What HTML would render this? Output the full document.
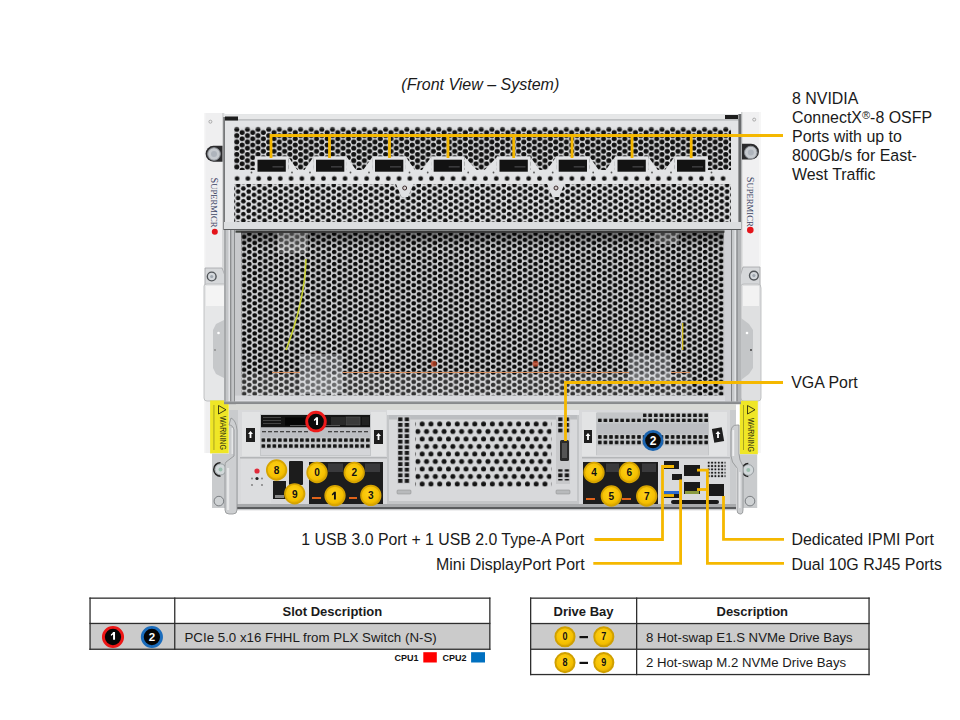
<!DOCTYPE html>
<html><head><meta charset="utf-8">
<style>
html,body{margin:0;padding:0;background:#fff;width:960px;height:720px;overflow:hidden;}
body{position:relative;font-family:"Liberation Sans",sans-serif;color:#1a1a1a;}
.t{position:absolute;white-space:nowrap;font-size:15.95px;line-height:19.2px;}
svg{position:absolute;left:0;top:0;}
table{position:absolute;border-collapse:collapse;font-family:"Liberation Sans",sans-serif;}
td{border:1.3px solid #333;padding:0;}
</style></head><body>
<svg width="960" height="720" viewBox="0 0 960 720">
<defs>
  <pattern id="meshA" patternUnits="userSpaceOnUse" x="234.14" y="127.84" width="10.63" height="6.25">
    <rect width="10.63" height="6.25" fill="#dfe0e2"/>
    <circle cx="2.658" cy="1.562" r="2.5" fill="#121212"/><circle cx="2.658" cy="7.812" r="2.5" fill="#121212"/><circle cx="7.973" cy="-1.562" r="2.5" fill="#121212"/><circle cx="7.973" cy="4.688" r="2.5" fill="#121212"/>
  </pattern>
  <pattern id="meshA2" patternUnits="userSpaceOnUse" x="235.43" y="126.00" width="10.63" height="6.4">
    <rect width="10.63" height="6.4" fill="#dfe0e2"/>
    <circle cx="2.658" cy="1.600" r="2.3" fill="#121212"/><circle cx="2.658" cy="8.000" r="2.3" fill="#121212"/><circle cx="7.973" cy="-1.600" r="2.3" fill="#121212"/><circle cx="7.973" cy="4.800" r="2.3" fill="#121212"/>
  </pattern>
  <pattern id="meshRow" patternUnits="userSpaceOnUse" x="220.90" y="175.5" width="10.8" height="6">
    <rect width="10.8" height="6" fill="#e2e3e5"/><circle cx="5.4" cy="3.1" r="2.4" fill="#121212"/>
  </pattern>
  <pattern id="meshCap" patternUnits="userSpaceOnUse" x="234.14" y="126.5" width="10.63" height="10">
    <rect width="10.63" height="10" fill="#dfe0e2"/><circle cx="2.6575" cy="2.9" r="2.5" fill="#121212"/>
  </pattern>
  <pattern id="meshB" patternUnits="userSpaceOnUse" x="241.45" y="235.29" width="10.6" height="6.04">
    <rect width="10.6" height="6.04" fill="#cfd0d2"/>
    <circle cx="2.650" cy="1.510" r="2.25" fill="#0c0c0c"/><circle cx="2.650" cy="7.550" r="2.25" fill="#0c0c0c"/><circle cx="7.950" cy="-1.510" r="2.25" fill="#0c0c0c"/><circle cx="7.950" cy="4.530" r="2.25" fill="#0c0c0c"/>
  </pattern>
  <pattern id="meshC" patternUnits="userSpaceOnUse" x="417.8" y="420.25" width="8.77" height="15">
    <rect width="8.77" height="15" fill="#d6d7d9"/>
    <circle cx="4.385" cy="3.75" r="2.5" fill="#141414"/>
    <circle cx="0" cy="11.25" r="2.5" fill="#141414"/>
    <circle cx="8.77" cy="11.25" r="2.5" fill="#141414"/>
  </pattern>
  <pattern id="sq" patternUnits="userSpaceOnUse" x="260.6" y="437.15" width="5.5" height="5.9">
    <rect width="5.5" height="5.9" fill="#c4c6c8"/>
    <rect x="0.95" y="1.15" width="3.6" height="3.6" rx="0.6" fill="#161616"/>
  </pattern>
  <pattern id="sq2" patternUnits="userSpaceOnUse" x="597" y="412.7" width="5.6" height="5.1">
    <rect width="5.6" height="5.1" fill="#c4c6c8"/>
    <rect x="1.00" y="0.75" width="3.6" height="3.6" rx="0.6" fill="#161616"/>
  </pattern>
  <pattern id="sq3" patternUnits="userSpaceOnUse" x="597" y="434.2" width="5.6" height="5.5">
    <rect width="5.6" height="5.5" fill="#c4c6c8"/>
    <rect x="1.00" y="0.95" width="3.6" height="3.6" rx="0.6" fill="#161616"/>
  </pattern>
  <pattern id="vent" patternUnits="userSpaceOnUse" x="397" y="416.5" width="6.6" height="5.6">
    <rect width="6.6" height="5.6" fill="#cbcccf"/>
    <rect x="1.2" y="0.9" width="4.2" height="3.8" fill="#181818"/>
  </pattern>
  <pattern id="vent3" patternUnits="userSpaceOnUse" x="557" y="416.5" width="6.6" height="5.6">
    <rect width="6.6" height="5.6" fill="#cbcccf"/>
    <rect x="1.2" y="0.9" width="4.2" height="3.8" fill="#181818"/>
  </pattern>
  <pattern id="vent2" patternUnits="userSpaceOnUse" x="707" y="461" width="3.35" height="3.35">
    <rect width="3.35" height="3.35" fill="#d6d7da"/><circle cx="1.7" cy="1.7" r="1.05" fill="#1a1a1a"/>
  </pattern>
  <linearGradient id="shadeTop" x1="0" y1="0" x2="0" y2="1">
    <stop offset="0" stop-color="#000" stop-opacity="0.45"/>
    <stop offset="1" stop-color="#000" stop-opacity="0"/>
  </linearGradient>
  <radialGradient id="gold" cx="0.45" cy="0.4" r="0.6">
    <stop offset="0" stop-color="#ffd21a"/>
    <stop offset="0.75" stop-color="#f5c000"/>
    <stop offset="1" stop-color="#d9a400"/>
  </radialGradient>
</defs>

<!-- ===== Left ear ===== -->
<rect x="204" y="113" width="21" height="340" fill="#efeff0"/>
<rect x="204" y="113" width="1.5" height="340" fill="#f6f6f6"/>
<rect x="222" y="113" width="2" height="340" fill="#d6d7d8"/>
<circle cx="210.4" cy="121.7" r="1.5" fill="none" stroke="#9a9a9a" stroke-width="0.8"/>
<path d="M222.5 145.8 H213.5 A7.95 7.95 0 0 0 213.5 161.7 H222.5 Z" fill="#2a2a2c"/>
<circle cx="214" cy="154" r="6.3" fill="#c6cacf" stroke="#8a8e94" stroke-width="1"/>
<circle cx="214" cy="154" r="3" fill="#aeb4bc"/>
<text transform="translate(211,177.5) rotate(90)" font-family="Liberation Serif" font-size="10.5" fill="#3c4464" textLength="50" lengthAdjust="spacingAndGlyphs">S<tspan font-size="8.8">UPERMICR</tspan></text>
<circle cx="214.8" cy="231.8" r="3" fill="#e4141a"/>
<path d="M205 268 H222 L229 286 L229 292 H205 Z" fill="#d6d8da" stroke="#a4a6a8" stroke-width="0.8"/>
<circle cx="211.7" cy="276.5" r="4.4" fill="#d4d8dc" stroke="#505458" stroke-width="1.4"/>
<circle cx="211.7" cy="276.5" r="1.6" fill="#a0a8b0"/>
<!-- handle left -->
<path d="M204 286 Q204 284 207 284 L225 284 Q228 284 228 288 L228 398 Q228 401 225 401 L207 401 Q204 401 204 398 Z" fill="#e6e7e8" stroke="#b4b6b8" stroke-width="0.8"/>
<rect x="206" y="286" width="18" height="20" fill="#f4f4f4"/>
<path d="M228 318 L216 324 L213 330 L213 368 L216 374 L228 380 Z" fill="#c6c8ca"/>
<circle cx="218.5" cy="333" r="1.3" fill="#fff"/>
<circle cx="215" cy="350" r="0.9" fill="#888"/>
<rect x="229" y="380" width="8" height="22" fill="#3a4050"/>
<rect x="230" y="386" width="6" height="3" fill="#8890b0"/>
<rect x="230" y="393" width="6" height="3" fill="#8890b0"/>
<rect x="229" y="380" width="7" height="80" fill="#2e3036"/>
<rect x="210.1" y="400.4" width="18.6" height="53" fill="#efe626"/>
<text transform="translate(220.3,416) rotate(90)" font-size="9.5" fill="#2e2e10" font-family="Liberation Sans" textLength="34" lengthAdjust="spacingAndGlyphs">WARNING</text>
<path d="M218.5 405.5 L218.5 414 L226 409.75 Z" fill="none" stroke="#2e2e10" stroke-width="0.9"/>
<rect x="213.6" y="405" width="0.7" height="45" fill="#8a8420"/>
<path d="M212 453.4 H230 V508 H212 Z" fill="#c9cbcd"/>
<path d="M220.5 462.7 A6.7 6.7 0 0 0 220.5 476.1" fill="none" stroke="#222" stroke-width="1.6"/>
<circle cx="220.5" cy="469.4" r="5.6" fill="#d2d8da" stroke="#8a9094" stroke-width="0.8"/>
<circle cx="220.5" cy="469.4" r="2" fill="#9cc0b0"/>
<circle cx="218.9" cy="501.1" r="4.8" fill="#cfd2d4" stroke="#7a7e82" stroke-width="1"/>

<!-- ===== Right ear ===== -->
<rect x="741" y="112" width="20" height="341" fill="#f0f0f1"/>
<rect x="759" y="112" width="2" height="341" fill="#f6f6f6"/>
<rect x="741" y="112" width="1.5" height="341" fill="#d0d1d2"/>
<circle cx="754.2" cy="119.6" r="1.5" fill="none" stroke="#9a9a9a" stroke-width="0.8"/>
<path d="M742 143.8 H751 A7.9 7.9 0 0 1 751 159.6 H742 Z" fill="#2a2a2c"/>
<circle cx="750.8" cy="152.5" r="6.3" fill="#c6cacf" stroke="#8a8e94" stroke-width="1"/>
<circle cx="750.8" cy="152.5" r="3" fill="#aeb4bc"/>
<text transform="translate(747.3,176.7) rotate(90)" font-family="Liberation Serif" font-size="10.5" fill="#3c4464" textLength="50" lengthAdjust="spacingAndGlyphs">S<tspan font-size="8.8">UPERMICR</tspan></text>
<circle cx="750.3" cy="230.1" r="3.3" fill="#e4141a"/>
<path d="M760 267 H743 L737 286 L737 292 H760 Z" fill="#d6d8da" stroke="#a4a6a8" stroke-width="0.8"/>
<circle cx="753.9" cy="275.6" r="4.4" fill="#d4d8dc" stroke="#505458" stroke-width="1.4"/>
<circle cx="753.9" cy="275.6" r="1.6" fill="#a0a8b0"/>
<path d="M741 286 Q741 284 744 284 L758 284 Q761 284 761 288 L761 398 Q761 401 758 401 L744 401 Q741 401 741 398 Z" fill="#dfe0e1" stroke="#b4b6b8" stroke-width="0.8"/>
<rect x="743" y="286" width="16" height="20" fill="#f2f2f2"/>
<path d="M741 318 L749 324 L753 330 L753 368 L749 374 L741 380 Z" fill="#c4c6c8"/>
<circle cx="747" cy="333" r="1.3" fill="#fff"/>
<circle cx="751" cy="350" r="0.9" fill="#333"/>
<rect x="739.8" y="400.8" width="18" height="53.5" fill="#efe626"/>
<text transform="translate(748.3,418) rotate(90)" font-size="9.5" fill="#2e2e10" font-family="Liberation Sans" textLength="34" lengthAdjust="spacingAndGlyphs">WARNING</text>
<path d="M747.5 405.5 L747.5 414 L755 409.75 Z" fill="none" stroke="#2e2e10" stroke-width="0.9"/>
<rect x="743" y="405" width="0.7" height="45" fill="#8a8420"/>
<path d="M737.2 454.3 H757.2 V508 H737.2 Z" fill="#c9cbcd"/>
<path d="M748.3 463.6 A6.4 6.4 0 0 0 748.3 476.4" fill="none" stroke="#222" stroke-width="1.6"/>
<circle cx="748.3" cy="470" r="5.4" fill="#d2d8da" stroke="#8a9094" stroke-width="0.8"/>
<circle cx="748.3" cy="470" r="2" fill="#9cc0b0"/>
<circle cx="750" cy="501.1" r="4.8" fill="#cfd2d4" stroke="#7a7e82" stroke-width="1"/>

<!-- ===== Top panel ===== -->
<rect x="224" y="114" width="517" height="116" fill="#e3e4e6"/>
<rect x="224" y="114.5" width="517" height="5" fill="#e6e7e8"/>
<rect x="224" y="119.4" width="517" height="1" fill="#a4a6a8"/>
<rect x="225" y="116.5" width="13" height="4" fill="#1e1e1e"/>
<rect x="725" y="115" width="13" height="4" fill="#1e1e1e"/>
<rect x="223.3" y="117" width="1.6" height="113" fill="#6a6c6e"/>
<rect x="738.4" y="114" width="2.6" height="116" fill="#6a6c6e"/>
<rect x="741" y="114" width="1" height="116" fill="#b0b2b4"/>
<!-- upper mesh -->
<rect x="234" y="128.8" width="497" height="41.2" fill="url(#meshA)"/>
<rect x="234" y="126.5" width="497" height="2.3" fill="url(#meshCap)"/>
<!-- port surrounds -->
<g fill="#e2e3e5">
  <rect x="254.9" y="156.3" width="33.5" height="20"/>
  <rect x="313.4" y="156.3" width="33.5" height="20"/>
  <rect x="372.4" y="156.3" width="33.5" height="20"/>
  <rect x="431.1" y="156.3" width="33.5" height="20"/>
  <rect x="496.9" y="156.3" width="33.5" height="20"/>
  <rect x="556.1" y="156.3" width="33.5" height="20"/>
  <rect x="614.9" y="156.3" width="33.5" height="20"/>
  <rect x="674.4" y="156.3" width="33.5" height="20"/>
  <path d="M288.4 157 L298.4 171.6 L288.4 171.6 Z M313.4 157 L303.4 171.6 L313.4 171.6 Z"/>
  <path d="M346.9 157 L357.1 171.6 L346.9 171.6 Z M372.4 157 L362.1 171.6 L372.4 171.6 Z"/>
  <path d="M405.9 157 L416.0 171.6 L405.9 171.6 Z M431.1 157 L421.0 171.6 L431.1 171.6 Z"/>
  <path d="M464.6 157 L478.2 171.6 L464.6 171.6 Z M496.9 157 L483.2 171.6 L496.9 171.6 Z"/>
  <path d="M530.4 157 L540.8 171.6 L530.4 171.6 Z M556.1 157 L545.8 171.6 L556.1 171.6 Z"/>
  <path d="M589.6 157 L599.8 171.6 L589.6 171.6 Z M614.9 157 L604.8 171.6 L614.9 171.6 Z"/>
  <path d="M648.4 157 L658.9 171.6 L648.4 171.6 Z M674.4 157 L663.9 171.6 L674.4 171.6 Z"/>
</g>
<rect x="234" y="171.5" width="497" height="5" fill="#e2e3e5"/>
<g fill="#121212">
  <rect x="257.5" y="159.7" width="28.3" height="12"/>
  <rect x="316.0" y="159.7" width="28.3" height="12"/>
  <rect x="375.0" y="159.7" width="28.3" height="12"/>
  <rect x="433.7" y="159.7" width="28.3" height="12"/>
  <rect x="499.5" y="159.7" width="28.3" height="12"/>
  <rect x="558.7" y="159.7" width="28.3" height="12"/>
  <rect x="617.5" y="159.7" width="28.3" height="12"/>
  <rect x="677.0" y="159.7" width="28.3" height="12"/>
</g>
<g fill="#3a3a3c">
  <rect x="272.5" y="166" width="11" height="1.6"/>
  <rect x="331.0" y="166" width="11" height="1.6"/>
  <rect x="390.0" y="166" width="11" height="1.6"/>
  <rect x="448.7" y="166" width="11" height="1.6"/>
  <rect x="514.5" y="166" width="11" height="1.6"/>
  <rect x="573.7" y="166" width="11" height="1.6"/>
  <rect x="632.5" y="166" width="11" height="1.6"/>
  <rect x="692.0" y="166" width="11" height="1.6"/>
</g>
<g fill="#555">
  <circle cx="251.5" cy="172.5" r="0.9"/><circle cx="292.0" cy="172.5" r="0.9"/>
  <circle cx="310.0" cy="172.5" r="0.9"/><circle cx="350.5" cy="172.5" r="0.9"/>
  <circle cx="369.0" cy="172.5" r="0.9"/><circle cx="409.5" cy="172.5" r="0.9"/>
  <circle cx="427.7" cy="172.5" r="0.9"/><circle cx="468.2" cy="172.5" r="0.9"/>
  <circle cx="493.5" cy="172.5" r="0.9"/><circle cx="534.0" cy="172.5" r="0.9"/>
  <circle cx="552.7" cy="172.5" r="0.9"/><circle cx="593.2" cy="172.5" r="0.9"/>
  <circle cx="611.5" cy="172.5" r="0.9"/><circle cx="652.0" cy="172.5" r="0.9"/>
  <circle cx="671.0" cy="172.5" r="0.9"/><circle cx="711.5" cy="172.5" r="0.9"/>
</g>
<!-- single row + lower mesh -->
<rect x="234" y="175.5" width="497" height="5.8" fill="url(#meshRow)"/>
<rect x="234" y="181" width="497" height="4" fill="#e2e3e4"/>
<rect x="234" y="184" width="497" height="38" fill="url(#meshA2)"/>
<path d="M396 184 H413.5 L408 197 H401.5 Z" fill="#dfe0e2"/>
<circle cx="404.7" cy="188" r="2" fill="#d8d0d0" stroke="#3a2a2a" stroke-width="1"/>
<path d="M547 184 H564.5 L559 197 H552.5 Z" fill="#dfe0e2"/>
<circle cx="556" cy="188" r="2" fill="#d8d0d0" stroke="#3a2a2a" stroke-width="1"/>
<rect x="224" y="222" width="517" height="8" fill="#dcdee0"/>
<rect x="224" y="229" width="517" height="1.5" fill="#5a5c5e"/>

<!-- ===== Middle mesh section ===== -->
<rect x="224" y="230" width="517" height="174" fill="#c8c9cc"/>
<rect x="224" y="230" width="2" height="174" fill="#a8aaac"/>
<rect x="226" y="230" width="2.5" height="174" fill="#c4c6c8"/>
<rect x="228.5" y="230" width="1.8" height="174" fill="#e2e3e5"/>
<rect x="230.3" y="230" width="1.2" height="174" fill="#707274"/>
<rect x="231.5" y="230" width="2.5" height="174" fill="#c2c4c6"/>
<rect x="234" y="230" width="1" height="174" fill="#8a8c8e"/>
<rect x="724.5" y="230" width="6.5" height="174" fill="#cfd0d4"/>
<rect x="731" y="230" width="1" height="174" fill="#808284"/>
<rect x="732" y="230" width="2.5" height="174" fill="#c6c8ca"/>
<rect x="734.5" y="230" width="2" height="174" fill="#e2e3e5"/>
<rect x="736.5" y="230" width="1.2" height="174" fill="#707274"/>
<rect x="737.7" y="230" width="3.3" height="174" fill="#b4b6b8"/>
<rect x="235.5" y="230.5" width="489" height="2.2" fill="#3e423e"/>
<rect x="241" y="231" width="483" height="3" fill="#3a3a3a"/>
<rect x="241" y="233" width="483" height="162.6" fill="url(#meshB)"/>
<rect x="241" y="233" width="483" height="14" fill="url(#shadeTop)"/>
<rect x="300" y="354" width="42.5" height="40" fill="#dde0e6" opacity="0.32"/>
<rect x="629" y="353" width="42" height="28" fill="#dde0e6" opacity="0.32"/>
<rect x="241" y="374" width="450" height="22" fill="#fff" opacity="0.16"/>
<path d="M272 372.5 H300 M342.5 372.5 H629 M671 372.5 H690" stroke="#d89060" stroke-width="1.1"/>
<circle cx="433.7" cy="363.7" r="3" fill="#c04020" opacity="0.75"/>
<circle cx="535.5" cy="363.7" r="3" fill="#c04020" opacity="0.75"/>
<path d="M306 259 Q305 300 286 350" stroke="#c8d030" stroke-width="1.6" fill="none"/>
<path d="M682.7 323 V350" stroke="#d8c020" stroke-width="1.3"/>
<rect x="277" y="233" width="31" height="20" fill="#e8e8e8" opacity="0.28"/>
<rect x="655" y="233" width="24" height="11" fill="#e8e8e8" opacity="0.25"/>
<rect x="235" y="395.6" width="490" height="5.2" fill="#d8d9dc"/>
<rect x="235" y="400.5" width="490" height="0.8" fill="#eaeaf0"/>
<rect x="224" y="401.3" width="517" height="3" fill="#a6a8aa"/>
<rect x="224" y="402.6" width="517" height="0.9" fill="#6a6c6e"/>

<!-- ===== Lower section ===== -->
<rect x="229" y="404.3" width="507" height="106" fill="#c9cbcd"/>
<rect x="229" y="404.3" width="507" height="5.7" fill="#d8d9d5"/>
<!-- left module -->
<rect x="238" y="410" width="149" height="96" fill="#d8d9db"/>
<rect x="242" y="412" width="18" height="44" fill="#e2e3e4"/>
<rect x="371" y="412" width="15" height="44" fill="#e2e3e4"/>
<rect x="260" y="414" width="111" height="42" fill="#c4c6c8"/>
<rect x="261" y="415" width="109" height="12.5" fill="#141414"/>
<rect x="263" y="417" width="18" height="1" fill="#444"/><rect x="263" y="420" width="18" height="1" fill="#444"/><rect x="263" y="423" width="18" height="1" fill="#444"/>
<rect x="285" y="417.5" width="22" height="8" fill="#050505"/>
<rect x="290" y="425" width="50" height="1" fill="#555"/>
<rect x="331" y="417" width="14" height="8" fill="#2a2a2a"/>
<rect x="346" y="417" width="14" height="8" fill="#3a3a3a" stroke="#555" stroke-width="0.6"/>
<rect x="362" y="417" width="7" height="8" fill="#222"/>
<rect x="261" y="427.5" width="109" height="10.3" fill="#bcbec2"/>
<g fill="#444"><rect x="262" y="431" width="4" height="1.3"/><rect x="268" y="431" width="4" height="1.3"/><rect x="274" y="431" width="4" height="1.3"/><rect x="280" y="431" width="4" height="1.3"/><rect x="286" y="431" width="4" height="1.3"/><rect x="292" y="431" width="4" height="1.3"/><rect x="298" y="431" width="4" height="1.3"/><rect x="304" y="431" width="4" height="1.3"/><rect x="328" y="431" width="4" height="1.3"/><rect x="334" y="431" width="4" height="1.3"/><rect x="340" y="431" width="4" height="1.3"/><rect x="346" y="431" width="4" height="1.3"/><rect x="352" y="431" width="4" height="1.3"/><rect x="358" y="431" width="4" height="1.3"/><rect x="364" y="431" width="4" height="1.3"/></g>
<rect x="261" y="437.15" width="109" height="11.8" fill="url(#sq)"/>
<rect x="261" y="449" width="109" height="6" fill="#d4d5d8"/>
<rect x="246" y="428" width="9" height="14" fill="#1e1e1e"/>
<path d="M250.5 431 l2.5 3 h-1.6 v4 h-1.8 v-4 h-1.6z" fill="#fff"/>
<rect x="374" y="430" width="9" height="14" fill="#1e1e1e"/>
<path d="M378.5 433 l2.5 3 h-1.6 v4 h-1.8 v-4 h-1.6z" fill="#fff"/>
<rect x="240" y="457" width="147" height="1.5" fill="#b4b6b8"/>
<rect x="241" y="459" width="30" height="44" fill="#dcdddf"/>
<circle cx="257" cy="471" r="2.6" fill="#e02a3a"/>
<circle cx="257" cy="478.5" r="1.6" fill="#222"/>
<circle cx="252" cy="478.5" r="0.9" fill="#777"/><circle cx="262" cy="478.5" r="0.9" fill="#777"/>
<circle cx="252" cy="485" r="0.9" fill="#777"/><circle cx="262" cy="485" r="0.9" fill="#777"/>
<rect x="289" y="461" width="14" height="24" rx="1" fill="#1c1c1c"/>
<rect x="273" y="481" width="13" height="18" fill="#1c1c1c"/>
<rect x="275" y="495" width="9" height="3" fill="#888"/>
<rect x="309" y="462" width="74" height="42" fill="#1d1d1d"/>
<rect x="328" y="463.5" width="15" height="8.5" fill="#3a3a3c"/>
<rect x="365" y="463.5" width="15" height="8.5" fill="#3a3a3c"/>
<rect x="312" y="497" width="9" height="2" fill="#e0631a"/>
<rect x="349" y="497" width="8" height="2" fill="#e0631a"/>

<!-- center panel -->
<rect x="387" y="410" width="192" height="95" fill="#c4c6c8"/>
<rect x="387" y="410" width="192" height="5" fill="#e6e7e9"/>
<rect x="389" y="415" width="188" height="86" fill="#d8d9db"/>
<rect x="389" y="415" width="188" height="4.5" fill="#bbbdc0"/>
<rect x="397" y="416.5" width="13.2" height="67.2" fill="url(#vent)"/>
<rect x="415.4" y="421" width="136" height="66" fill="url(#meshC)"/>
<rect x="556" y="416" width="14" height="68" fill="#c8c9cb"/>
<rect x="557" y="416.5" width="13.2" height="16.8" fill="url(#vent3)"/>
<rect x="560" y="440" width="9" height="21" rx="1.5" fill="#2a2a2a"/>
<rect x="562" y="443" width="5" height="15" fill="#555"/>
<rect x="557" y="469.3" width="13.2" height="11.2" fill="url(#vent3)"/>
<rect x="397" y="490" width="14" height="4" rx="1" fill="#b8babc" stroke="#888" stroke-width="0.5"/>
<rect x="556" y="490" width="14" height="4" rx="1" fill="#b8babc" stroke="#888" stroke-width="0.5"/>

<!-- right module -->
<rect x="579" y="410" width="151" height="96" fill="#d8d9db"/>
<rect x="582" y="412" width="14" height="44" fill="#e2e3e4"/>
<rect x="709" y="412" width="18" height="44" fill="#e2e3e4"/>
<rect x="596" y="413" width="113" height="42" fill="#c4c6c8"/>
<rect x="597" y="412.7" width="111" height="10.2" fill="url(#sq2)"/><rect x="597" y="412.7" width="46" height="5" fill="#c4c6c8"/>
<rect x="597" y="423.6" width="111" height="10.4" fill="#bcbec2"/>
<rect x="597" y="434.2" width="111" height="11" fill="url(#sq3)"/>
<rect x="597" y="445.7" width="111" height="9.3" fill="#d0d1d3"/>
<rect x="584" y="430" width="8" height="13" fill="#1e1e1e"/>
<path d="M588 433 l2.5 3 h-1.6 v4 h-1.8 v-4 h-1.6z" fill="#fff"/>
<rect x="713" y="428" width="10" height="14" fill="#1e1e1e" transform="rotate(-10 718 435)"/>
<path d="M718 431 l2.5 3 h-1.6 v4 h-1.8 v-4 h-1.6z" fill="#fff"/>
<rect x="582" y="457" width="148" height="1.5" fill="#b4b6b8"/>
<rect x="583" y="462" width="75" height="43" fill="#1d1d1d"/>
<rect x="606" y="463.5" width="13" height="8.5" fill="#3a3a3c"/>
<rect x="642" y="463.5" width="14" height="8.5" fill="#3a3a3c"/>
<rect x="586" y="498" width="9" height="2" fill="#e0631a"/>
<rect x="622" y="498" width="9" height="2" fill="#e0631a"/>
<!-- IO -->
<rect x="660" y="459" width="68" height="46" fill="#d9dadc"/>
<rect x="664" y="461" width="15" height="8" fill="#1a1a1a"/>
<rect x="672" y="474" width="10" height="6" fill="#1a1a1a"/>
<rect x="684" y="465" width="16" height="11" fill="#1a1a1a"/>
<rect x="684" y="482" width="16" height="12" fill="#1a1a1a"/>
<rect x="685" y="491" width="14" height="3" fill="#8a9a40"/>
<rect x="707" y="461" width="18.5" height="17" fill="url(#vent2)"/>
<rect x="709" y="484" width="15" height="12" fill="#1a1a1a"/>
<rect x="664" y="491" width="15" height="7" fill="#1a1a1a"/>
<rect x="664" y="491" width="15" height="3" fill="#2a6ad0"/>
<rect x="671" y="500" width="48" height="4" rx="2" fill="#1a1a1a"/>

<rect x="229" y="504" width="507" height="3" fill="#a8aaac"/>
<rect x="229" y="507" width="507" height="2" fill="#5a5c5e"/>

<path d="M229 425 Q233 425 234 430 L234 456 L226 462 Q225 463 225 466 L225 510 Q225 514 229 514 L233 514 Q237 514 237 510 L237 430 Q236 420 231 418 Z" fill="#cdcfd1" stroke="#8e9092" stroke-width="0.8"/>
<rect x="227" y="468" width="2.2" height="42" fill="#e6e7e8"/>
<rect x="231.5" y="428" width="1.6" height="26" fill="#e6e7e8"/>
<path d="M737 425 Q731 425 731 432 L731 456 Q731 462 737 468 L737 510 Q737 514 740 514 L741 514 Q743 514 743 510 L743 466 Q739 460 739 454 L739 425 Z" fill="#cdcfd1" stroke="#8e9092" stroke-width="0.8"/>
<rect x="732.4" y="430" width="1.8" height="26" fill="#eeeff0"/>
<rect x="739" y="472" width="1.6" height="36" fill="#e6e7e8"/>
<!-- ===== slot badges ===== -->
<circle cx="316" cy="421.6" r="9.3" fill="#0a0a0a" stroke="#ee1a1a" stroke-width="2.9"/>
<path d="M316.07 417.20 H318.02 V425.00 H316.07 V419.77 Q315.13 420.63 313.96 421.10 V419.54 Q315.29 418.76 316.07 417.20 Z" fill="#fff"/>
<circle cx="653" cy="440.5" r="10.5" fill="#1a64b0"/>
<circle cx="653" cy="440.5" r="7.8" fill="#0a0a0a"/>
<text x="653" y="445" font-size="12" font-weight="bold" fill="#fff" text-anchor="middle" font-family="Liberation Sans">2</text>

<!-- drive badges -->
<g font-family="Liberation Sans" font-size="11" font-weight="bold" fill="#111" text-anchor="middle">
  <circle cx="276.6" cy="470" r="9.8" fill="url(#gold)" stroke="#d6a400" stroke-width="1.7"/><text x="276.6" y="473.9" textLength="5.6" lengthAdjust="spacingAndGlyphs">8</text>
  <circle cx="294.7" cy="493.8" r="9.8" fill="url(#gold)" stroke="#d6a400" stroke-width="1.7"/><text x="294.7" y="497.7" textLength="5.6" lengthAdjust="spacingAndGlyphs">9</text>
  <circle cx="317" cy="472.5" r="9.8" fill="url(#gold)" stroke="#d6a400" stroke-width="1.7"/><text x="317" y="476.4" textLength="5.6" lengthAdjust="spacingAndGlyphs">0</text>
  <circle cx="354.2" cy="472.5" r="9.8" fill="url(#gold)" stroke="#d6a400" stroke-width="1.7"/><text x="354.2" y="476.4" textLength="5.6" lengthAdjust="spacingAndGlyphs">2</text>
  <circle cx="335" cy="495.6" r="9.8" fill="url(#gold)" stroke="#d6a400" stroke-width="1.7"/><path d="M333.97 491.80 H335.87 V499.40 H333.97 V494.31 Q333.06 495.14 331.92 495.60 V494.08 Q333.21 493.32 333.97 491.80 Z" fill="#111"/>
  <circle cx="370.8" cy="495.4" r="9.8" fill="url(#gold)" stroke="#d6a400" stroke-width="1.7"/><text x="370.8" y="499.3" textLength="5.6" lengthAdjust="spacingAndGlyphs">3</text>
  <circle cx="594" cy="472.5" r="9.8" fill="url(#gold)" stroke="#d6a400" stroke-width="1.7"/><text x="594" y="476.4" textLength="5.6" lengthAdjust="spacingAndGlyphs">4</text>
  <circle cx="629.4" cy="472.5" r="9.8" fill="url(#gold)" stroke="#d6a400" stroke-width="1.7"/><text x="629.4" y="476.4" textLength="5.6" lengthAdjust="spacingAndGlyphs">6</text>
  <circle cx="611.3" cy="496" r="9.8" fill="url(#gold)" stroke="#d6a400" stroke-width="1.7"/><text x="611.3" y="499.9" textLength="5.6" lengthAdjust="spacingAndGlyphs">5</text>
  <circle cx="646.7" cy="496" r="9.8" fill="url(#gold)" stroke="#d6a400" stroke-width="1.7"/><text x="646.7" y="499.9" textLength="5.6" lengthAdjust="spacingAndGlyphs">7</text>
</g>

<!-- ===== callout lines ===== -->
<g stroke="#f5b800" stroke-width="2.8" fill="none" stroke-linecap="butt">
  <path d="M271 158 V135.5 H783"/>
  <path d="M329.5 158 V135.5 M389.5 158 V135.5 M448 158 V135.5 M513.7 158 V135.5 M572 158 V135.5 M632 158 V135.5 M691.2 158 V135.5"/>
  <path d="M565.5 441 V382.5 H783"/>
  <path d="M674 466.5 H662.5 V539.5 H594.5"/>
  <path d="M674 495.5 H662.5"/>
  <path d="M680.6 479.5 V563.4 H593.3"/>
  <path d="M697 470.2 H707.4 V563.4 H784"/>
  <path d="M697 489.5 H707.4"/>
  <path d="M723.5 496 V539.4 H784"/>
</g>
</svg>

<!-- ===== texts ===== -->
<div class="t" style="left:401.3px;top:75px;font-style:italic;font-size:16px;">(Front View – System)</div>
<div class="t" style="left:792px;top:90px;line-height:18.97px;">8 NVIDIA<br>ConnectX<span style="font-size:11px;vertical-align:4.5px;line-height:0">®</span>-8 OSFP<br>Ports with up to<br>800Gb/s for East-<br>West Traffic</div>
<div class="t" style="left:791.2px;top:373px;">VGA Port</div>
<div class="t" style="left:301.3px;top:530px;font-size:15.85px;">1 USB 3.0 Port + 1 USB 2.0 Type-A Port</div>
<div class="t" style="left:436px;top:555px;">Mini DisplayPort Port</div>
<div class="t" style="left:791.4px;top:530px;">Dedicated IPMI Port</div>
<div class="t" style="left:791.4px;top:555px;">Dual 10G RJ45 Ports</div>

<!-- ===== Slot table ===== -->
<svg width="960" height="720" style="position:absolute;left:0;top:0">
  <rect x="90" y="623.4" width="400" height="25.8" fill="#cbcbcb"/>
  <g fill="#2e2e2e">
    <rect x="89.4" y="597.5" width="401" height="1.3"/>
    <rect x="89.4" y="622.8" width="401" height="1.3"/>
    <rect x="89.4" y="648.6" width="401" height="1.3"/>
    <rect x="89.4" y="597.5" width="1.3" height="52.4"/>
    <rect x="174.1" y="597.5" width="1.3" height="52.4"/>
    <rect x="489.2" y="597.5" width="1.3" height="52.4"/>
  </g>
  <circle cx="113" cy="637" r="9.6" fill="#050505" stroke="#ec1616" stroke-width="2.9"/>
  <path d="M113.06 631.95 H115.04 V639.85 H113.06 V634.56 Q112.12 635.43 110.93 635.90 V634.32 Q112.27 633.53 113.06 631.95 Z" fill="#fff"/>
  <circle cx="151.9" cy="637" r="9.6" fill="#050505" stroke="#1a6cbc" stroke-width="2.9"/>
  <text x="152" y="640.9" font-size="11.5" font-weight="bold" fill="#fff" text-anchor="middle" font-family="Liberation Sans">2</text>
  <text x="394.5" y="661.2" font-size="9" font-weight="bold" fill="#111" font-family="Liberation Sans">CPU1</text>
  <rect x="423.3" y="652.2" width="13.5" height="10.3" fill="#ff0000"/>
  <text x="442.4" y="661.2" font-size="9" font-weight="bold" fill="#111" font-family="Liberation Sans">CPU2</text>
  <rect x="471.1" y="652.2" width="13.9" height="10.3" fill="#0070c0"/>

  <!-- drive table -->
  <rect x="531" y="623.5" width="338" height="25.7" fill="#cbcbcb"/>
  <g fill="#2e2e2e">
    <rect x="530" y="597.5" width="339.7" height="1.3"/>
    <rect x="530" y="622.9" width="339.7" height="1.3"/>
    <rect x="530" y="648.6" width="339.7" height="1.3"/>
    <rect x="530" y="673.9" width="339.7" height="1.3"/>
    <rect x="530" y="597.5" width="1.3" height="77.7"/>
    <rect x="636" y="597.5" width="1.3" height="77.7"/>
    <rect x="868.4" y="597.5" width="1.3" height="77.7"/>
  </g>
  <g font-family="Liberation Sans" font-size="10.7" font-weight="bold" fill="#111" text-anchor="middle">
    <circle cx="565" cy="636.8" r="9.6" fill="url(#gold)" stroke="#d0a000" stroke-width="1.9"/><text x="565" y="640.2" textLength="5" lengthAdjust="spacingAndGlyphs">0</text>
    <circle cx="603.8" cy="636.8" r="9.6" fill="url(#gold)" stroke="#d0a000" stroke-width="1.9"/><text x="603.8" y="640.2" textLength="5" lengthAdjust="spacingAndGlyphs">7</text>
    <circle cx="565" cy="662.6" r="9.6" fill="url(#gold)" stroke="#d0a000" stroke-width="1.9"/><text x="565" y="666" textLength="5" lengthAdjust="spacingAndGlyphs">8</text>
    <circle cx="603.8" cy="662.6" r="9.6" fill="url(#gold)" stroke="#d0a000" stroke-width="1.9"/><text x="603.8" y="666" textLength="5" lengthAdjust="spacingAndGlyphs">9</text>
  </g>
  <rect x="579.5" y="636" width="8.5" height="2.2" fill="#111"/>
  <rect x="579.5" y="661.8" width="8.5" height="2.2" fill="#111"/>
</svg>
<div class="t" style="left:282.5px;top:602px;font-size:13px;font-weight:bold;">Slot Description</div>
<div class="t" style="left:184.5px;top:627.5px;font-size:13.3px;">PCIe 5.0 x16 FHHL from PLX Switch (N-S)</div>
<div class="t" style="left:553.5px;top:602px;font-size:13px;font-weight:bold;">Drive Bay</div>
<div class="t" style="left:716.5px;top:602px;font-size:13px;font-weight:bold;">Description</div>
<div class="t" style="left:646px;top:627.5px;font-size:13.2px;">8 Hot-swap E1.S NVMe Drive Bays</div>
<div class="t" style="left:646px;top:652.5px;font-size:13.2px;">2 Hot-swap M.2 NVMe Drive Bays</div>
</body></html>
